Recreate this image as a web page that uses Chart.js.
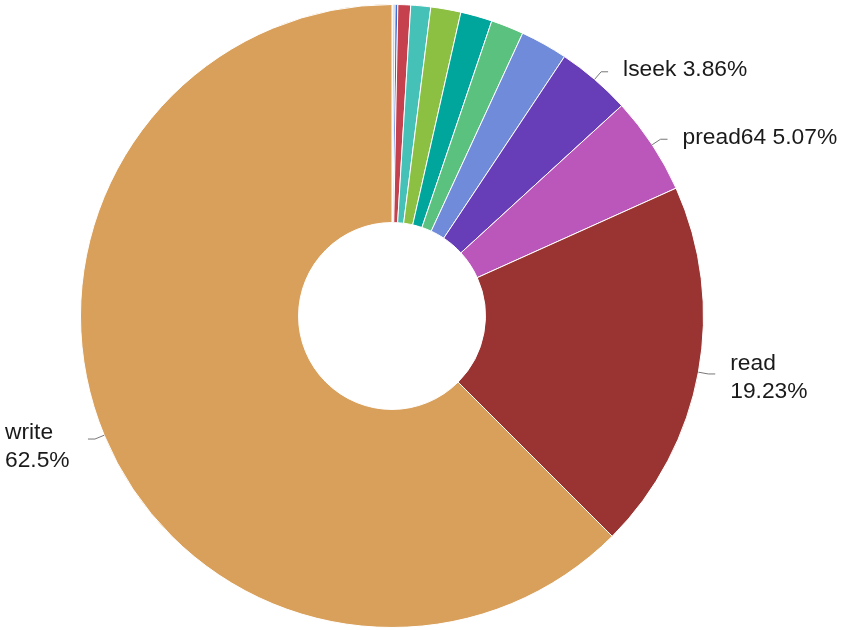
<!DOCTYPE html>
<html>
<head>
<meta charset="utf-8">
<script src="https://cdn.jsdelivr.net/npm/chart.js@4/dist/chart.umd.min.js"></script>
<style>
  html, body { margin: 0; padding: 0; background: #fff; }
  #wrap { width: 841px; height: 630px; }
</style>
</head>
<body>
<div id="wrap"><canvas id="chart-syscalls"></canvas></div>
<script>
// syscall share in percent, drawn clockwise from the top
let labels = ["fstat", "close", "openat", "mmap", "brk", "stat", "fcntl", "getdents", "open", "lseek", "pread64", "read", "write"];
let percents = [0.06, 0.1, 0.14, 0.66, 1.03, 1.56, 1.64, 1.7, 2.45, 3.86, 5.07, 19.23, 62.5];
let colors = ["#e6c9a3", "#8fa2cf", "#416fd2", "#c5414d", "#45c1b8", "#8bc043", "#00a69b", "#5bc17e", "#6f8bda", "#673db8", "#bb56bb", "#9a3432", "#d9a05c"];

// only slices at least this big get an outside label
let labelMin = 3;

let outsideLabels = {
  id: "outsideLabels",
  afterDatasetsDraw: function(chart) {
    let ctx = chart.ctx;
    let meta = chart.getDatasetMeta(0);
    ctx.save();
    ctx.font = "22.8px 'Liberation Sans', Arial, sans-serif";
    ctx.fillStyle = "#1a1a1a";
    ctx.strokeStyle = "#777";
    ctx.lineWidth = 1;
    ctx.textBaseline = "middle";
    ctx.textAlign = "left";
    meta.data.forEach(function(arc, i) {
      let v = percents[i];
      if (v < labelMin) return;
      let p = arc.getProps(["x", "y", "startAngle", "endAngle", "outerRadius"], true);
      let mid = (p.startAngle + p.endAngle) / 2;
      let cos = Math.cos(mid), sin = Math.sin(mid);
      let x0 = p.x + cos * p.outerRadius;
      let y0 = p.y + sin * p.outerRadius;
      let x1 = x0 + cos * 10;
      let y1 = y0 + sin * 10;
      let right = cos >= 0;
      let x2 = x1 + (right ? 7 : -7);
      ctx.beginPath();
      ctx.moveTo(x0, y0);
      ctx.lineTo(x1, y1);
      ctx.lineTo(x2, y1);
      ctx.stroke();

      let pct = parseFloat(v.toFixed(2)) + "%";
      // labels in the upper part stay on one line, the rest wrap
      let lines = (y1 < p.y - 120) ? [labels[i] + " " + pct] : [labels[i], pct];
      let lh = 28;
      let ty = y1 - (lines.length - 1) * lh / 2 + (lines.length > 1 ? 4 : -2);
      // left side labels sit against the canvas edge
      let tx = right ? x2 + 15 : 5;
      if (!right) ty += 4;
      lines.forEach(function(t, k) {
        ctx.fillText(t, tx, ty + k * lh);
      });
    });
    ctx.restore();
  }
};

let ctx = document.getElementById("chart-syscalls").getContext("2d");
window.myDoughnut = new Chart(ctx, {
  type: "doughnut",
  data: {
    labels: labels,
    datasets: [
      {
        data: percents,
        backgroundColor: colors,
        borderColor: "#ffffff",
        borderWidth: 1
      }
    ]
  },
  options: {
    responsive: true,
    maintainAspectRatio: false,
    animation: false,
    cutout: "30%",
    layout: {
      padding: { top: 4, bottom: 2, left: 0, right: 57 }
    },
    plugins: {
      legend: { display: false },
      tooltip: { enabled: false }
    }
  },
  plugins: [outsideLabels]
});
</script>
</body>
</html>
